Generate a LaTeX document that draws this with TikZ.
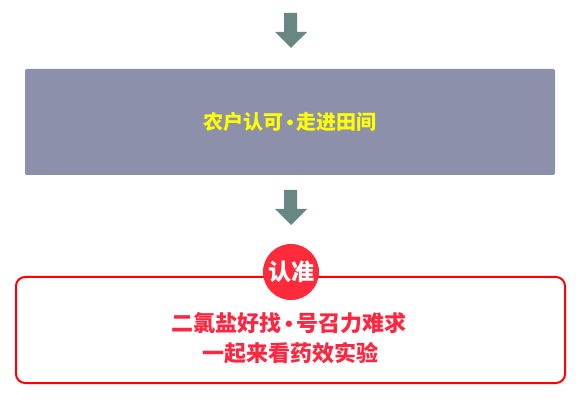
\documentclass[tikz,border=0pt]{standalone}
\usepackage{fontspec}
\newfontfamily\cjk{Noto Sans CJK SC}
\newfontfamily\lat{Liberation Sans}
\usetikzlibrary{positioning}
\definecolor{arrowgray}{RGB}{104,135,130}
\definecolor{boxgray}{RGB}{140,144,171}
\definecolor{textyellow}{RGB}{255,255,0}
\definecolor{redline}{RGB}{255,0,0}
\definecolor{badgered}{RGB}{255,42,58}
\definecolor{textred}{RGB}{255,38,64}
\newcommand{\dotsep}{{\lat\bfseries\,•\,}}

\begin{document}
\begin{tikzpicture}[
    x=1pt, y=1pt,
    blockarrow/.style={fill=arrowgray},
    graybox/.style={rectangle, fill=boxgray, minimum width=530pt, minimum height=106pt, rounded corners=2pt, font=\cjk\bfseries\fontsize{20}{24}\selectfont, text=textyellow},
    redbox/.style={rectangle, draw=redline, line width=2pt, fill=white, minimum width=549pt, minimum height=106pt, rounded corners=9pt},
    badge/.style={circle, fill=badgered, minimum size=56pt, inner sep=0pt, font=\cjk\bfseries\fontsize{23}{26}\selectfont, text=white},
    redtext/.style={font=\cjk\bfseries\fontsize{22}{26}\selectfont, text=textred, inner sep=0pt}
]
\useasboundingbox (0,0) rectangle (581,-403);

% Top arrow
\fill[blockarrow] (284,-13) -- (297,-13) -- (297,-32) -- (307,-32) -- (291,-48) -- (275,-32) -- (284,-32) -- cycle;

% Gray box
\node[graybox] (farm) at (290,-122) {农户认可\dotsep 走进田间};

% Middle arrow
\fill[blockarrow] (284,-190) -- (297,-190) -- (297,-209) -- (307,-209) -- (291,-225) -- (275,-209) -- (284,-209) -- cycle;

% Red box with badge
\node[redbox] (trial) at (290.5,-330) {};
\node[badge] (mark) at (291,-272) {认准};
\node[redtext] (lineone) at (289,-323) {二氯盐好找\dotsep 号召力难求};
\node[redtext] (linetwo) at (290,-353) {一起来看药效实验};

\end{tikzpicture}
\end{document}
